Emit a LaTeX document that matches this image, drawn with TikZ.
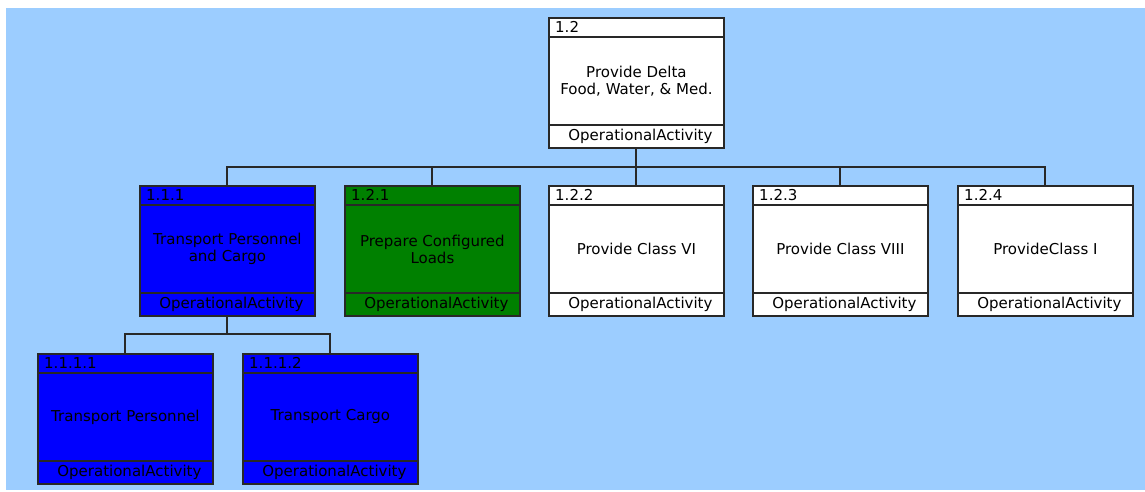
\documentclass[tikz,border=0pt]{standalone}
\usepackage{fontspec}
\setmainfont{DejaVu Sans}
\usetikzlibrary{calc}

\definecolor{canvas}{RGB}{156,205,255}
\definecolor{edge}{RGB}{40,40,40}
\definecolor{actblue}{RGB}{0,0,255}
\definecolor{actgreen}{RGB}{0,128,0}

\tikzset{
  actbox/.style={draw=edge, line width=1.8pt, rectangle, anchor=north west,
    minimum width=175pt, minimum height=130pt, inner sep=0pt},
  sepline/.style={draw=edge, line width=1.8pt},
  link/.style={draw=edge, line width=2pt},
  boxtext/.style={font=\fontsize{15}{17}\selectfont, inner sep=0pt, text=black},
}

% #1 name, #2 x, #3 top y, #4 fill, #5 id, #6 label
\newcommand{\activity}[6]{%
  \node[actbox, fill=#4] (#1) at (#2,#3) {};
  \draw[sepline] ($(#1.north west)+(0,-20pt)$) -- ($(#1.north east)+(0,-20pt)$);
  \draw[sepline] ($(#1.south west)+(0,24pt)$) -- ($(#1.south east)+(0,24pt)$);
  \node[boxtext, anchor=west] (#1-id) at ($(#1.north west)+(7pt,-10pt)$) {#5};
  \node[boxtext, align=center] (#1-txt) at ($(#1.center)+(0,2pt)$) {#6};
  \node[boxtext] (#1-kind) at ($(#1.south)+(4pt,12pt)$) {OperationalActivity};
}

\begin{document}
\begin{tikzpicture}[x={(1pt,0)}, y={(0,-1pt)}]
  \useasboundingbox (0,0) rectangle (1145,491);
  \fill[white] (0,0) rectangle (1145,491);
  \fill[canvas] (6,8) rectangle (1145,490);

  % bus heights of the two tree levels
  \coordinate (busA) at (0,167);
  \coordinate (busB) at (0,334);

  % root
  \activity{root}{548}{17}{white}{1.2}{Provide Delta\\Food, Water, \& Med.}

  % second level
  \activity{a111}{139}{185}{actblue}{1.1.1}{Transport Personnel\\and Cargo}
  \activity{a121}{344}{185}{actgreen}{1.2.1}{Prepare Configured\\Loads}
  \activity{a122}{548}{185}{white}{1.2.2}{Provide Class VI}
  \activity{a123}{752}{185}{white}{1.2.3}{Provide Class VIII}
  \activity{a124}{957}{185}{white}{1.2.4}{ProvideClass I}

  % third level
  \activity{a1111}{37}{353}{actblue}{1.1.1.1}{Transport Personnel}
  \activity{a1112}{242}{353}{actblue}{1.1.1.2}{Transport Cargo}

  % tree connectors
  \foreach \c in {a111,a121,a122,a123,a124}
    \draw[link] (root.south) |- (\c.north |- busA) -- (\c.north);
  \foreach \c in {a1111,a1112}
    \draw[link] (a111.south) |- (\c.north |- busB) -- (\c.north);
\end{tikzpicture}
\end{document}
